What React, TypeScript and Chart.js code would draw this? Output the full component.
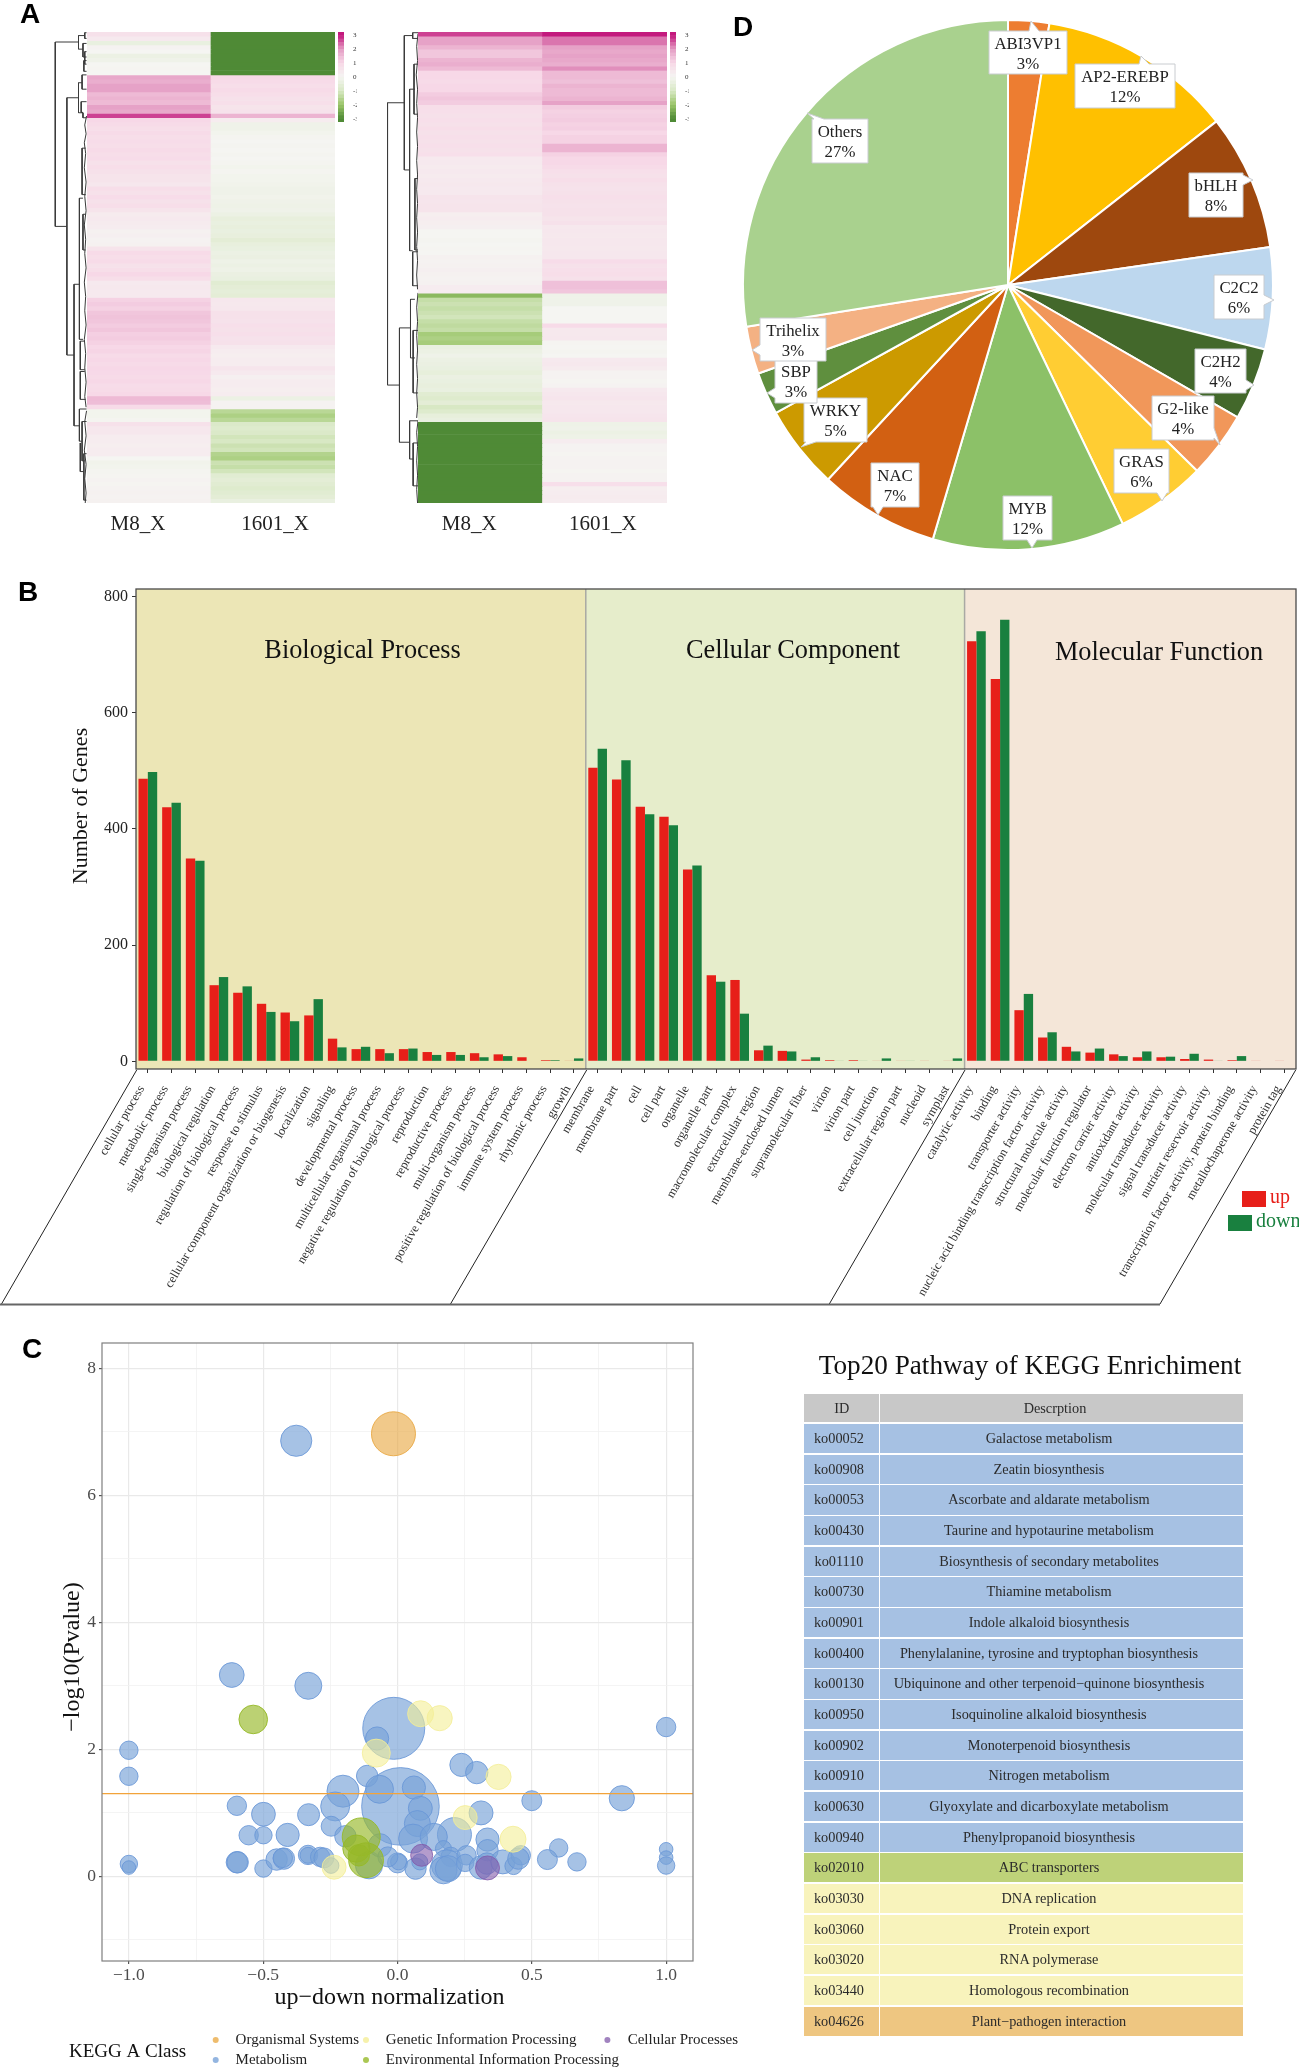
import React, { useEffect, useRef } from "react";
import { Chart, registerables } from "chart.js";

Chart.register(...registerables);

const SERIF = "'Liberation Serif', 'Times New Roman', serif";
const SANS = "'Liberation Sans', Arial, sans-serif";

// ---------- Panel A data: z-scores, one entry per heat-map row ----------
const heatColumns = ["M8_X", "1601_X"];
const leftM8 = [
  0.7, 0.4, -0.4, 0.1, 0, -0.3, -0.2, 0, 0.05, 0,
  1.8, 1.7, 1.9, 1.9, 1.5, 1.6, 1.5, 1.9, 1.8, 2.7,
  1.0, 0.9, 0.8, 0.9, 0.8, 0.85, 0.8, 0.9, 0.8, 0.85,
  0.7, 0.8, 0.7, 0.6, 0.6, 0.5, 0.8, 0.7, 0.85, 0.7,
  0.8, 0.6, 0.35, 0.4, 0.35, 0.3, 0.15, 0.2, 0.1, 0.15,
  0.6, 0.9, 0.8, 0.9, 0.7, 0.8, 1.0, 0.8, 0.4, 0.45,
  0.4, 0.4, 1.1, 1.2, 1.1, 1.3, 1.35, 1.3, 1.2, 1.3,
  1.15, 1.2, 1.1, 1.0, 1.05, 0.9, 1.0, 0.9, 1.0, 0.95,
  0.9, 1.0, 0.85, 0.9, 1.0, 1.5, 1.45, 0.9, -0.1, -0.1,
  -0.05, 0.7, 0.5, 0.5, 0.3, 0.3, 0.25, 0.3, 0.3, 0,
  -0.15, -0.1, -0.05, 0.05, 0.1, 0.05, 0.1, 0.15, 0.1, 0.15,
];
const left1601 = [
  -3, -3, -3, -3, -3, -3, -3, -3, -3, -3,
  1.0, 0.9, 0.8, 0.9, 0.8, 0.7, 0.75, 0.6, 0.65, 1.6,
  0.3, -0.2, -0.2, -0.1, -0.05, 0, -0.05, 0, -0.05, 0,
  -0.05, -0.1, -0.05, -0.1, -0.1, -0.15, -0.2, -0.2, -0.15, -0.2,
  -0.25, -0.2, -0.3, -0.45, -0.4, -0.45, -0.4, -0.45, -0.6, -0.45,
  -0.4, -0.3, -0.35, -0.25, -0.3, -0.25, -0.35, -0.4, -0.7, -0.6,
  -0.55, -0.6, 0.5, 0.45, 0.5, 0.7, 0.7, 0.65, 0.75, 0.7,
  0.75, 0.65, 0.7, 0.4, 0.3, 0.25, 0.3, 0.3, 0.55, 0.4,
  0.2, 0.3, 0.3, 0.25, 0.3, -0.3, 0.1, 0.1, -1.5, -1.7,
  -1.5, -0.9, -0.8, -0.9, -1.1, -1.0, -1.2, -1.1, -1.6, -1.7,
  -1.2, -1.3, -1.1, -0.7, -0.6, -0.7, -0.8, -0.7, -0.6, -0.4,
];
const rightM8 = [
  2.7, 1.9, 1.9, 1.6, 1.3, 1.3, 1.6, 1.7, 1.5, 1.0,
  1.0, 0.9, 1.0, 1.0, 1.2, 1.3, 1.2, 0.8, 0.75, 0.7,
  0.75, 0.7, 0.8, 0.7, 0.75, 0.7, 0.75, 0.7, 0.75, 0.4,
  0.4, 0.35, 0.4, 0.35, 0.4, 0.45, 0.4, 0.4, 0.6, 0.55,
  0.6, 0.6, 0.25, 0.3, 0.25, 0.2, 0, 0, -0.05, 0,
  0.05, 0, 0.15, 0.1, 0.15, 0.2, 0.15, 0.1, 0.15, 0.3,
  0.3, -2.2, -1.3, -1.2, -1.3, -1.2, -1.1, -1.3, -1.4, -1.3,
  -1.8, -1.7, -1.8, -0.4, -0.3, -0.2, -0.3, -0.35, -0.4, -0.5,
  -0.35, -0.4, -0.45, -0.4, -0.7, -0.8, -0.6, -1.0, -0.8, -0.5,
  -0.4, -3, -3, -3, -3, -3, -3, -3, -3, -3,
  -3, -3, -3, -3, -3, -3, -3, -3, -3, -3,
];
const right1601 = [
  3.0, 2.3, 2.3, 1.9, 1.8, 1.9, 1.8, 1.7, 2.1, 1.5,
  1.5, 1.4, 1.6, 1.5, 1.5, 1.6, 1.9, 1.2, 1.1, 1.15,
  1.2, 1.1, 1.15, 1.0, 1.1, 1.1, 1.6, 1.6, 1.1, 1.0,
  1.0, 0.9, 0.75, 0.7, 0.8, 0.7, 0.65, 0.7, 0.75, 0.7,
  0.65, 0.7, 0.7, 0.6, 0.7, 0.45, 0.5, 0.45, 0.5, 0.5,
  0.45, 0.5, 0.5, 0.85, 0.7, 0.75, 0.8, 0.7, 1.4, 1.4,
  1.3, -0.2, -0.2, -0.2, 0, 0, 0, 0, 0.9, 0.45,
  0.45, 0.5, 0.05, 0, -0.05, 0, 0.4, 0.45, 0.35, 0.1,
  0.1, 0.05, 0.1, 0.4, 0.5, 0.55, 0.45, 0.5, 0.5, 0.55,
  0.6, -0.25, -0.2, -0.3, -0.25, 0.3, 0.1, 0.1, 0.05, 0.1,
  0.1, 0.1, 0.05, 0.1, 0.1, 0.75, 0.25, 0.3, 0.35, 0.3,
];
const colorbarStops = [
  -3.2, -3, -2.75, -2.5, -2.25, -2, -1.75, -1.5, -1.25, -1, -0.75, -0.5, -0.25,
  0, 0.25, 0.5, 0.75, 1, 1.25, 1.5, 1.75, 2, 2.25, 2.5, 2.75, 3, 3.25,
];
const colorbarTicks = [-3, -2, -1, 0, 1, 2, 3];

// dendrogram branches, as [height, row position, height, row position, ...]
const leftTreeBranches = [
  [176, 118, 124, 118, 124, 634, 150, 634],
  [176, 274, 150, 274, 150, 994, 166, 994],
  [178, 796, 166, 796, 166, 1192, 178, 1192],
  [190, 100, 176, 100, 176, 138, 186, 138],
  [194, 122, 186, 122, 186, 160, 194, 160],
  [194, 92, 190, 92, 190, 108, 194, 108],
  [194, 145, 190, 145, 190, 180, 194, 180],
  [194, 170, 188, 170, 188, 200, 194, 200],
  [194, 210, 184, 210, 184, 250, 194, 250],
  [184, 232, 176, 232, 176, 316, 186, 316, 186, 330, 194, 330],
  [194, 285, 182, 285, 182, 315, 186, 315],
  [178, 555, 178, 950, 186, 950],
  [178, 555, 186, 555],
  [184, 415, 184, 545, 192, 545],
  [184, 415, 192, 415],
  [186, 600, 186, 700, 192, 700],
  [186, 600, 192, 600],
  [180, 955, 180, 1035, 190, 1035],
  [180, 955, 190, 955],
  [180, 1040, 180, 1118, 192, 1118],
  [180, 1040, 190, 1040],
  [194, 325, 190, 350, 193, 375, 189, 400, 192, 430, 189, 470, 193, 510, 190, 550, 193, 590, 189, 630, 192, 670, 190, 710, 193, 750, 189, 790, 192, 830, 190, 870, 193, 910, 189, 950, 192, 990, 190, 1030, 193, 1070, 190, 1110, 193, 1140],
  [194, 1145, 178, 1145, 178, 1235, 184, 1235],
  [184, 1180, 184, 1290, 190, 1290],
  [184, 1180, 194, 1180],
  [180, 1240, 180, 1320, 188, 1320],
  [188, 1270, 188, 1400, 194, 1400],
  [188, 1270, 194, 1270],
  [194, 1150, 190, 1180, 193, 1220, 189, 1260, 193, 1300, 190, 1340, 193, 1380, 191, 1408],
];
const rightTreeBranches = [
  [906, 288, 868, 288, 868, 1078, 895, 1078],
  [925, 100, 906, 100, 906, 476, 918, 476],
  [930, 250, 918, 250, 918, 702, 925, 702],
  [895, 918, 895, 1238, 918, 1238],
  [895, 918, 920, 918],
  [920, 838, 920, 1002, 930, 1002],
  [920, 838, 930, 838],
  [918, 1178, 918, 1285, 926, 1285],
  [918, 1178, 937, 1178],
  [925, 92, 925, 108, 937, 108],
  [925, 92, 937, 92],
  [928, 180, 928, 320, 937, 320],
  [928, 180, 937, 180],
  [930, 500, 930, 700, 937, 700],
  [930, 500, 937, 500],
  [925, 705, 925, 800, 937, 800],
  [925, 705, 937, 705],
  [926, 925, 926, 1100, 937, 1100],
  [926, 925, 937, 925],
  [926, 1240, 926, 1360, 937, 1360],
  [926, 1240, 937, 1240],
  [937, 95, 934, 130, 936, 170, 933, 210, 936, 250, 934, 290, 936, 330, 934, 370, 936, 410, 934, 450, 936, 490, 934, 530, 936, 570, 934, 610, 936, 650, 934, 690, 936, 730, 934, 770, 936, 810],
  [937, 820, 934, 860, 936, 900, 934, 940, 936, 980, 934, 1020, 936, 1060, 934, 1100, 936, 1140, 934, 1170],
  [937, 1178, 934, 1210, 936, 1250, 934, 1290, 936, 1330, 934, 1370, 936, 1408],
];

// ---------- Panel B data ----------
const goTerms = [
  "cellular process", "metabolic process", "single-organism process", "biological regulation",
  "regulation of biological process", "response to stimulus", "cellular component organization or biogenesis",
  "localization", "signaling", "developmental process", "multicellular organismal process",
  "negative regulation of biological process", "reproduction", "reproductive process", "multi-organism process",
  "positive regulation of biological process", "immune system process", "rhythmic process", "growth",
  "membrane", "membrane part", "cell", "cell part", "organelle", "organelle part", "macromolecular complex",
  "extracellular region", "membrane-enclosed lumen", "supramolecular fiber", "virion", "virion part",
  "cell junction", "extracellular region part", "nucleoid", "symplast",
  "catalytic activity", "binding", "transporter activity", "nucleic acid binding transcription factor activity",
  "structural molecule activity", "molecular function regulator", "electron carrier activity", "antioxidant activity",
  "molecular transducer activity", "signal transducer activity", "nutrient reservoir activity",
  "transcription factor activity, protein binding", "metallochaperone activity", "protein tag",
];
const goUp = [
  486, 437, 349, 131, 118, 99, 84, 79, 39, 21, 21, 21, 16, 16, 14, 12, 7, 2, 1,
  505, 485, 438, 421, 330, 148, 140, 19, 18, 3, 2, 2, 1, 1, 1, 1,
  723, 658, 88, 41, 25, 15, 12, 7, 7, 4, 3, 2, 1, 1,
];
const goDown = [
  498, 445, 345, 145, 129, 85, 69, 107, 24, 25, 14, 22, 11, 11, 7, 9, 0, 2, 5,
  538, 518, 425, 406, 337, 137, 82, 27, 17, 7, 1, 1, 5, 1, 0, 5,
  740, 760, 116, 50, 17, 22, 9, 17, 8, 13, 1, 9, 0, 0,
];
const goTicks = [0, 200, 400, 600, 800];
const facetNames = ["Biological Process", "Cellular Component", "Molecular Function"];
const legendB = ["up", "down"];

// ---------- Panel C data: x = up-down normalization, y = -log10(P), r = bubble size ----------
const threshold = [1.3, 1.3];
const metabolism = [
  { x: -0.377, y: 6.86, r: 15.6 }, { x: -0.617, y: 3.17, r: 12.4 }, { x: -0.332, y: 3.0, r: 13.5 },
  { x: -0.014, y: 2.33, r: 31 }, { x: -0.076, y: 2.17, r: 11.6 }, { x: -1, y: 1.985, r: 9.2 },
  { x: -1, y: 1.575, r: 9.2 }, { x: 1, y: 2.35, r: 9.7 }, { x: 0.238, y: 1.754, r: 11.6 },
  { x: 0.295, y: 1.633, r: 11.2 }, { x: 0.011, y: 1.1, r: 38.8 }, { x: -0.113, y: 1.58, r: 10.7 },
  { x: -0.067, y: 1.37, r: 14 }, { x: 0.061, y: 1.397, r: 11.6 }, { x: -0.203, y: 1.34, r: 16 },
  { x: -0.232, y: 1.1, r: 14.5 }, { x: 0.085, y: 1.07, r: 12 }, { x: -0.598, y: 1.11, r: 9.7 },
  { x: -0.499, y: 0.977, r: 11.9 }, { x: -0.331, y: 0.97, r: 11 }, { x: -0.247, y: 0.788, r: 10 },
  { x: -0.554, y: 0.646, r: 9.7 }, { x: -0.499, y: 0.646, r: 8.7 }, { x: -0.409, y: 0.651, r: 11.6 },
  { x: -0.194, y: 0.63, r: 10.7 }, { x: -0.106, y: 0.173, r: 13.6 }, { x: -0.065, y: 0.488, r: 11.6 },
  { x: 0.074, y: 0.83, r: 13 }, { x: 0.058, y: 0.593, r: 14.5 }, { x: 0.311, y: 0.998, r: 12 },
  { x: 0.5, y: 1.19, r: 10 }, { x: 0.835, y: 1.229, r: 12.6 }, { x: 0.212, y: 0.656, r: 17 },
  { x: 0.135, y: 0.62, r: 13.6 }, { x: 0.335, y: 0.578, r: 11.6 }, { x: 0.335, y: 0.41, r: 10.7 },
  { x: 0.6, y: 0.446, r: 9.2 }, { x: 0.558, y: 0.263, r: 10 }, { x: 0.668, y: 0.226, r: 9.2 },
  { x: 1, y: 0.425, r: 6.8 }, { x: 1, y: 0.294, r: 6.8 }, { x: 1, y: 0.168, r: 8.7 },
  { x: -1, y: 0.194, r: 8.7 }, { x: -1, y: 0.137, r: 6.8 }, { x: -0.598, y: 0.22, r: 10.7 },
  { x: -0.595, y: 0.22, r: 10.7 }, { x: -0.499, y: 0.121, r: 8.7 }, { x: -0.45, y: 0.263, r: 10.7 },
  { x: -0.423, y: 0.278, r: 10.7 }, { x: -0.427, y: 0.289, r: 9.7 }, { x: -0.333, y: 0.336, r: 9.7 },
  { x: -0.333, y: 0.33, r: 8 }, { x: -0.288, y: 0.305, r: 9.7 }, { x: -0.274, y: 0.289, r: 10 },
  { x: -0.247, y: 0.168, r: 7.8 }, { x: 0, y: 0.21, r: 10 }, { x: 0.004, y: 0.226, r: 8 },
  { x: -0.036, y: 0.305, r: 10 }, { x: 0.067, y: 0.12, r: 10.7 }, { x: 0.083, y: 0.226, r: 8 },
  { x: 0.171, y: 0.436, r: 8 }, { x: 0.198, y: 0.305, r: 9.7 }, { x: 0.184, y: 0.173, r: 15.5 },
  { x: 0.171, y: 0.095, r: 13.6 }, { x: 0.189, y: 0.12, r: 13 }, { x: 0.257, y: 0.33, r: 9.7 },
  { x: 0.252, y: 0.21, r: 8.7 }, { x: 0.31, y: 0.137, r: 11.6 }, { x: 0.333, y: 0.2, r: 10.7 },
  { x: 0.392, y: 0.226, r: 12 }, { x: 0.432, y: 0.163, r: 8.7 }, { x: 0.459, y: 0.33, r: 9.7 },
  { x: 0.45, y: 0.278, r: 10.7 },
];
const organismalSystems = [{ x: -0.015, y: 6.97, r: 22 }];
const geneticInfo = [
  { x: 0.086, y: 2.56, r: 13 }, { x: 0.157, y: 2.49, r: 12.6 }, { x: -0.079, y: 1.94, r: 14 },
  { x: 0.376, y: 1.565, r: 12.6 }, { x: 0.252, y: 0.924, r: 12 }, { x: 0.43, y: 0.583, r: 13 },
  { x: -0.236, y: 0.142, r: 12 },
];
const environmentalInfo = [
  { x: -0.537, y: 2.47, r: 14.3 }, { x: -0.135, y: 0.62, r: 19 }, { x: -0.153, y: 0.436, r: 13.6 },
  { x: -0.117, y: 0.252, r: 17.4 }, { x: -0.144, y: 0.33, r: 10.7 },
];
const cellularProcesses = [{ x: 0.09, y: 0.33, r: 11 }, { x: 0.335, y: 0.131, r: 12 }];
const keggClasses = ["Organismal Systems", "Metabolism", "Genetic Information Processing", "Environmental Information Processing", "Cellular Processes"];

// ---------- Panel C table ----------
const pathwayIds = [
  "ko00052", "ko00908", "ko00053", "ko00430", "ko01110", "ko00730", "ko00901", "ko00400", "ko00130", "ko00950",
  "ko00902", "ko00910", "ko00630", "ko00940", "ko02010", "ko03030", "ko03060", "ko03020", "ko03440", "ko04626",
];
const pathwayNames = [
  "Galactose metabolism", "Zeatin biosynthesis", "Ascorbate and aldarate metabolism", "Taurine and hypotaurine metabolism",
  "Biosynthesis of secondary metabolites", "Thiamine metabolism", "Indole alkaloid biosynthesis",
  "Phenylalanine, tyrosine and tryptophan biosynthesis", "Ubiquinone and other terpenoid\u2212quinone biosynthesis",
  "Isoquinoline alkaloid biosynthesis", "Monoterpenoid biosynthesis", "Nitrogen metabolism",
  "Glyoxylate and dicarboxylate metabolism", "Phenylpropanoid biosynthesis", "ABC transporters", "DNA replication",
  "Protein export", "RNA polymerase", "Homologous recombination", "Plant\u2212pathogen interaction",
];
const pathwayClass = ["M", "M", "M", "M", "M", "M", "M", "M", "M", "M", "M", "M", "M", "M", "E", "G", "G", "G", "G", "O"];

// ---------- Panel D data ----------
const tfFamilies = ["ABI3VP1", "AP2-EREBP", "bHLH", "C2C2", "C2H2", "G2-like", "GRAS", "MYB", "NAC", "WRKY", "SBP", "Trihelix", "Others"];
const tfShares = [2.5, 11.9, 8.3, 6.2, 4.4, 4.05, 5.5, 11.7, 7.3, 5.1, 2.6, 2.9, 27.5];
const tfPrinted = ["3%", "12%", "8%", "6%", "4%", "4%", "6%", "12%", "7%", "5%", "3%", "3%", "27%"];

// ---------- Styles and placement (page pixels) ----------
const tfColors = ["#ED7D31", "#FFC000", "#9E480E", "#BDD7EE", "#43682B", "#F1975A", "#FFCD33", "#8CC168", "#D26012", "#CC9A00", "#5F8F3E", "#F4B183", "#A9D18E"];
// box x0,y0,x1,y1, pointer tip x,y
const tfLabelBoxes = [
  [989, 31, 1067, 74, 1031, 21], [1075, 64, 1175, 108, 1141, 56], [1189, 173, 1243, 217, 1253, 180],
  [1214, 275, 1264, 319, 1274, 300], [1195, 349, 1246, 393, 1254, 385], [1152, 396, 1214, 440, 1220, 445],
  [1114, 449, 1169, 493, 1162, 501], [1003, 496, 1052, 540, 1032, 548], [871, 463, 919, 507, 878, 515],
  [804, 398, 867, 442, 801, 447], [775, 359, 817, 403, 767, 393], [760, 318, 826, 361, 752, 350],
  [812, 119, 868, 163, 807, 113],
];
const Z_STOPS = [
  [-3, [79, 138, 54]], [-2, [154, 197, 104]], [-1, [216, 232, 196]], [0, [245, 245, 242]],
  [1, [247, 216, 231]], [2, [228, 156, 195]], [3, [195, 25, 125]],
];
function zColor(z: number) {
  const v = Math.max(-3, Math.min(3, z));
  for (let i = 0; i < Z_STOPS.length - 1; i++) {
    const a: any = Z_STOPS[i];
    const b: any = Z_STOPS[i + 1];
    if (v <= b[0]) {
      const t = (v - a[0]) / (b[0] - a[0]);
      const c = a[1].map((n: number, k: number) => Math.round(n + (b[1][k] - n) * t));
      return `rgb(${c[0]},${c[1]},${c[2]})`;
    }
  }
  return "rgb(195,25,125)";
}

function text(ctx: any, s: string, x: number, y: number, font: string, color = "#111", align = "center", rot = 0) {
  ctx.save();
  ctx.translate(x, y);
  if (rot) ctx.rotate(rot);
  ctx.font = font;
  ctx.fillStyle = color;
  ctx.textAlign = align;
  ctx.textBaseline = "middle";
  ctx.fillText(s, 0, 0);
  ctx.restore();
}

const baseOptions = {
  responsive: false,
  maintainAspectRatio: false,
  animation: false,
  events: [],
};
const noLegend = { legend: { display: false }, tooltip: { enabled: false }, title: { display: false } };

function ChartBox({ left, top, width, height, config }: any) {
  const ref = useRef<HTMLCanvasElement>(null);
  useEffect(() => {
    const chart = new Chart(ref.current as any, config());
    return () => chart.destroy();
  }, []);
  return <canvas ref={ref} width={width} height={height} style={{ position: "absolute", left, top, width, height, display: "block" }} />;
}

// ---- Panel A ----
function heatConfig(col1: number[], col2: number[], offsets: number[]) {
  return () => ({
    type: "bar",
    data: {
      labels: heatColumns,
      datasets: col1.map((z, i) => ({
        data: [1, 1],
        backgroundColor: [zColor(z), zColor(col2[i])],
        borderWidth: 0,
        categoryPercentage: 1,
        barPercentage: 1,
      })),
    },
    options: {
      ...baseOptions,
      layout: { autoPadding: false, padding: { left: 0, right: 0, top: 0, bottom: 39 } },
      plugins: noLegend,
      scales: {
        x: { stacked: true, display: false },
        y: { stacked: true, display: false, reverse: true, min: 0, max: col1.length },
      },
    },
    plugins: [
      {
        id: "heatLabels",
        afterDraw(chart: any) {
          heatColumns.forEach((c, i) => {
            text(chart.ctx, c, chart.scales.x.getPixelForValue(i) + offsets[i], 524 - 32, `21px ${SERIF}`, "#222");
          });
        },
      },
    ],
  });
}

function treeConfig(branches: number[][], xMin: number, xMax: number) {
  return () => ({
    type: "scatter",
    data: {
      datasets: branches.map((b) => {
        const pts = [];
        for (let i = 0; i < b.length; i += 2) pts.push({ x: b[i], y: b[i + 1] });
        return { data: pts, showLine: true, pointRadius: 0, borderColor: "#3a3a3a", borderWidth: 1, tension: 0, clip: false };
      }),
    },
    options: {
      ...baseOptions,
      layout: { autoPadding: false },
      plugins: noLegend,
      scales: {
        x: { type: "linear", display: false, min: xMin, max: xMax },
        y: { type: "linear", display: false, min: 90, max: 1408, reverse: true },
      },
    },
  });
}

function colorbarConfig() {
  return {
    type: "bar",
    data: {
      labels: ["z"],
      datasets: colorbarStops.slice(0, -1).map((s, i) => ({
        data: [[s, colorbarStops[i + 1]]],
        backgroundColor: zColor((s + colorbarStops[i + 1]) / 2),
        grouped: false,
        borderWidth: 0,
        categoryPercentage: 1,
        barPercentage: 1,
      })),
    },
    options: {
      ...baseOptions,
      layout: { autoPadding: false },
      plugins: noLegend,
      scales: {
        x: { display: false },
        y: {
          position: "right",
          min: -3.2,
          max: 3.25,
          afterFit(s: any) { s.width = 13; s.paddingTop = 0; s.paddingBottom = 0; },
          afterBuildTicks(s: any) { s.ticks = colorbarTicks.map((v) => ({ value: v })); },
          grid: { display: false },
          border: { display: false },
          ticks: { autoSkip: false, padding: 1, font: { family: SERIF, size: 7 }, color: "#333" },
        },
      },
    },
  };
}

// ---- Panel B ----
function goConfig() {
  const T = 580;
  return {
    type: "bar",
    data: {
      labels: goTerms,
      datasets: [
        { label: legendB[0], data: goUp, backgroundColor: "#E71F19", borderWidth: 0, categoryPercentage: 0.79, barPercentage: 1 },
        { label: legendB[1], data: goDown, backgroundColor: "#19803F", borderWidth: 0, categoryPercentage: 0.79, barPercentage: 1 },
      ],
    },
    options: {
      ...baseOptions,
      layout: { autoPadding: false, padding: { left: 0, right: 3, top: 9, bottom: 0 } },
      plugins: noLegend,
      scales: {
        x: {
          afterFit(s: any) { s.height = 241; s.paddingLeft = 0; s.paddingRight = 0; },
          grid: { display: true, drawOnChartArea: false, offset: false, tickLength: 4, color: "#333" },
          border: { display: false },
          ticks: {
            autoSkip: false, minRotation: 60, maxRotation: 60, padding: 10, labelOffset: -6,
            font: { family: SERIF, size: 12.5 }, color: "#333",
          },
        },
        y: {
          min: -13.2,
          max: 812.7,
          afterFit(s: any) { s.width = 136; s.paddingTop = 0; s.paddingBottom = 0; },
          afterBuildTicks(s: any) { s.ticks = goTicks.map((v) => ({ value: v })); },
          grid: { display: true, drawOnChartArea: false, tickLength: 4, color: "#333" },
          border: { display: false },
          ticks: { padding: 4, font: { family: SERIF, size: 16 }, color: "#222" },
        },
      },
    },
    plugins: [
      {
        id: "facets",
        beforeDatasetsDraw(chart: any) {
          const { ctx, chartArea: a, scales } = chart;
          const b1 = scales.x.getPixelForValue(18.5);
          const b2 = scales.x.getPixelForValue(34.5);
          ctx.save();
          ctx.fillStyle = "#ECE6B6";
          ctx.fillRect(a.left, a.top, b1 - a.left, a.height);
          ctx.fillStyle = "#E6EDCB";
          ctx.fillRect(b1, a.top, b2 - b1, a.height);
          ctx.fillStyle = "#F4E6D8";
          ctx.fillRect(b2, a.top, a.right - b2, a.height);
          ctx.restore();
        },
        afterDraw(chart: any) {
          const { ctx, chartArea: a, scales } = chart;
          const b1 = scales.x.getPixelForValue(18.5);
          const b2 = scales.x.getPixelForValue(34.5);
          ctx.save();
          ctx.strokeStyle = "#a9a9a4";
          ctx.lineWidth = 1.5;
          [b1, b2].forEach((b) => {
            ctx.beginPath(); ctx.moveTo(b, a.top); ctx.lineTo(b, a.bottom); ctx.stroke();
          });
          ctx.strokeStyle = "#4a4a4a";
          ctx.lineWidth = 1.3;
          ctx.strokeRect(a.left, a.top, a.width, a.height);
          // slanted guides below the axis
          ctx.strokeStyle = "#222";
          ctx.lineWidth = 1;
          [[136.7, 1.5], [586.7, 450.5], [965, 829.3], [1295.7, 1160]].forEach(([x1, x2]) => {
            ctx.beginPath(); ctx.moveTo(x1, 1070 - T); ctx.lineTo(x2, 1304 - T); ctx.stroke();
          });
          ctx.strokeStyle = "#666";
          ctx.lineWidth = 2;
          ctx.beginPath(); ctx.moveTo(0, 1304.5 - T); ctx.lineTo(1160, 1304.5 - T); ctx.stroke();
          ctx.restore();
          text(ctx, "Number of Genes", 81, 806 - T, `22px ${SERIF}`, "#111", "center", -Math.PI / 2);
          text(ctx, facetNames[0], 362.6, 651 - T, `26.3px ${SERIF}`);
          text(ctx, facetNames[1], 793, 651 - T, `26.3px ${SERIF}`);
          text(ctx, facetNames[2], 1159, 653 - T, `26.3px ${SERIF}`);
          ctx.fillStyle = "#E71F19";
          ctx.fillRect(1242, 1191 - T, 24, 16);
          ctx.fillStyle = "#19803F";
          ctx.fillRect(1228, 1215 - T, 24, 16);
          text(ctx, legendB[0], 1270, 1198 - T, `20px ${SERIF}`, "#E71F19", "left");
          text(ctx, legendB[1], 1256, 1222 - T, `20px ${SERIF}`, "#19803F", "left");
        },
      },
    ],
  };
}

// ---- Panel C ----
function bubbleConfig() {
  const T = 1330;
  const cols: any = {
    M: ["rgba(120,163,216,0.66)", "rgba(105,150,215,0.85)"],
    O: ["rgba(232,165,60,0.6)", "rgba(232,165,60,0.85)"],
    G: ["rgba(244,238,150,0.6)", "rgba(244,238,150,0.8)"],
    E: ["rgba(150,185,40,0.65)", "rgba(150,185,40,0.9)"],
    C: ["rgba(130,90,170,0.6)", "rgba(130,90,170,0.8)"],
  };
  const bub = (data: any, k: string, label: string) => ({
    type: "bubble", label, data, backgroundColor: cols[k][0], borderColor: cols[k][1], borderWidth: 1,
  });
  return {
    type: "bubble",
    data: {
      datasets: [
        {
          type: "line", label: "threshold",
          data: threshold.map((y, i) => ({ x: i === 0 ? -1.1 : 1.1, y })),
          borderColor: "#F2A33A", borderWidth: 1.3, pointRadius: 0,
        },
        bub(cellularProcesses, "C", keggClasses[4]),
        bub(organismalSystems, "O", keggClasses[0]),
        bub(environmentalInfo, "E", keggClasses[3]),
        bub(geneticInfo, "G", keggClasses[2]),
        bub(metabolism, "M", keggClasses[1]),
      ],
    },
    options: {
      ...baseOptions,
      layout: { autoPadding: false, padding: { left: 0, right: 67, top: 13, bottom: 0 } },
      plugins: noLegend,
      scales: {
        x: {
          type: "linear",
          min: -1.1,
          max: 1.1,
          afterFit(s: any) { s.height = 107; s.paddingLeft = 0; s.paddingRight = 0; },
          border: { display: false },
          grid: {
            color: (c: any) => (Math.abs((c.tick.value * 2) % 1) < 1e-6 ? "#e9e9e9" : "#f1f1f1"),
            lineWidth: (c: any) => (Math.abs((c.tick.value * 2) % 1) < 1e-6 ? 1.2 : 0.8),
            tickColor: (c: any) => (Math.abs((c.tick.value * 2) % 1) < 1e-6 ? "#555" : "rgba(0,0,0,0)"),
            tickLength: 3,
          },
          ticks: {
            stepSize: 0.25, autoSkip: false, includeBounds: false, maxRotation: 0, padding: 1,
            font: { family: SERIF, size: 17.5 }, color: "#4d4d4d",
            callback: (v: number) => (Math.abs((v * 2) % 1) < 1e-6 ? (v < 0 ? "\u2212" : "") + Math.abs(v).toFixed(1) : ""),
          },
        },
        y: {
          type: "linear",
          min: -1.335,
          max: 8.4,
          afterFit(s: any) { s.width = 102; s.paddingTop = 0; s.paddingBottom = 0; },
          border: { display: false },
          grid: {
            color: (c: any) => (c.tick.value % 2 === 0 ? "#e9e9e9" : "#f1f1f1"),
            lineWidth: (c: any) => (c.tick.value % 2 === 0 ? 1.2 : 0.8),
            tickColor: (c: any) => (c.tick.value % 2 === 0 ? "#555" : "rgba(0,0,0,0)"),
            tickLength: 3,
          },
          ticks: {
            stepSize: 1, autoSkip: false, includeBounds: false, padding: 3,
            font: { family: SERIF, size: 17.5 }, color: "#4d4d4d",
            callback: (v: number) => (v % 2 === 0 ? String(v) : ""),
          },
        },
      },
    },
    plugins: [
      {
        id: "bubbleFrame",
        afterDraw(chart: any) {
          const { ctx, chartArea: a } = chart;
          ctx.save();
          ctx.strokeStyle = "#7f7f7f";
          ctx.lineWidth = 1.2;
          ctx.strokeRect(a.left, a.top, a.width, a.height);
          ctx.restore();
          text(ctx, "up\u2212down normalization", 389.5, 1998 - T, `24px ${SERIF}`);
          text(ctx, "\u2212log10(Pvalue)", 73, 1657 - T, `24px ${SERIF}`, "#111", "center", -Math.PI / 2);
          text(ctx, "KEGG A Class", 69, 2052 - T, `19px ${SERIF}`, "#111", "left");
          const items: any[] = [
            [215.7, 2040, 235.6, keggClasses[0], "rgba(232,165,60,0.75)"],
            [215.7, 2060, 235.6, keggClasses[1], "rgba(120,163,216,0.8)"],
            [366, 2040, 385.8, keggClasses[2], "rgba(244,238,150,0.8)"],
            [366, 2060, 385.8, keggClasses[3], "rgba(150,185,40,0.8)"],
            [607.4, 2040, 627.7, keggClasses[4], "rgba(130,90,170,0.75)"],
          ];
          items.forEach(([dx, y, tx, label, col]) => {
            ctx.beginPath();
            ctx.fillStyle = col;
            ctx.arc(dx, y - T, 3, 0, Math.PI * 2);
            ctx.fill();
            text(ctx, label, tx, y - T, `15px ${SERIF}`, "#222", "left");
          });
        },
      },
    ],
  };
}

// ---- Panel D ----
function calloutPath(ctx: any, x0: number, y0: number, x1: number, y1: number, tx: number, ty: number) {
  const dl = x0 - tx, dr = tx - x1, dt = y0 - ty, db = ty - y1;
  const m = Math.max(dl, dr, dt, db);
  const hw = 5;
  ctx.beginPath();
  ctx.moveTo(x0, y0);
  if (m === dt) {
    const b = Math.min(x1 - 7, Math.max(x0 + 7, tx + 3));
    ctx.lineTo(b - hw, y0); ctx.lineTo(tx, ty); ctx.lineTo(b + hw, y0);
  }
  ctx.lineTo(x1, y0);
  if (m === dr) {
    const b = Math.min(y1 - 7, Math.max(y0 + 7, ty));
    ctx.lineTo(x1, b - hw); ctx.lineTo(tx, ty); ctx.lineTo(x1, b + hw);
  }
  ctx.lineTo(x1, y1);
  if (m === db) {
    const b = Math.min(x1 - 7, Math.max(x0 + 7, tx));
    ctx.lineTo(b + hw, y1); ctx.lineTo(tx, ty); ctx.lineTo(b - hw, y1);
  }
  ctx.lineTo(x0, y1);
  if (m === dl) {
    const b = Math.min(y1 - 7, Math.max(y0 + 7, ty));
    ctx.lineTo(x0, b + hw); ctx.lineTo(tx, ty); ctx.lineTo(x0, b - hw);
  }
  ctx.closePath();
}

function pieConfig() {
  const L = 728, T = 5;
  return {
    type: "pie",
    data: {
      labels: tfFamilies,
      datasets: [{ data: tfShares, backgroundColor: tfColors, borderColor: "#fff", borderWidth: 2 }],
    },
    options: {
      ...baseOptions,
      layout: { autoPadding: false, padding: 14 },
      plugins: noLegend,
    },
    plugins: [
      {
        id: "tfLabels",
        afterDraw(chart: any) {
          const { ctx } = chart;
          tfFamilies.forEach((name, i) => {
            const [x0, y0, x1, y1, tx, ty] = tfLabelBoxes[i];
            ctx.save();
            ctx.translate(-L, -T);
            calloutPath(ctx, x0, y0, x1, y1, tx, ty);
            ctx.fillStyle = "#fff";
            ctx.fill();
            ctx.strokeStyle = "#c9ccd0";
            ctx.lineWidth = 1;
            ctx.stroke();
            const cx = (x0 + x1) / 2;
            const my = (y0 + y1) / 2;
            text(ctx, name, cx, my - 8, `16.8px ${SERIF}`, "#222");
            text(ctx, tfPrinted[i], cx, my + 12, `16.8px ${SERIF}`, "#222");
            ctx.restore();
          });
        },
      },
    ],
  };
}

// ---- Table ----
const classFill: any = { M: "#A6C1E3", E: "#BED279", G: "#F8F3BC", O: "#EEC681" };
function Cell({ left, top, width, height, bg, center, children }: any) {
  return (
    <div style={{ position: "absolute", left, top, width, height, background: bg }}>
      <div style={{
        position: "absolute", left: center - left - 200, width: 400, top: 0, height,
        textAlign: "center", font: `14.3px/${height}px ${SERIF}`, color: "#2b2b2b", whiteSpace: "nowrap",
      }}>{children}</div>
    </div>
  );
}

function KeggTable() {
  const top = 1393.5, pitch = 30.65;
  return (
    <div style={{ position: "absolute", left: 0, top: 0, overflow: "hidden", width: 1299, height: 2068, pointerEvents: "none" }}>
      <div style={{ position: "absolute", left: 780, width: 500, top: 1348, textAlign: "center", font: `27.2px/34px ${SERIF}`, color: "#111", whiteSpace: "nowrap" }}>
        Top20 Pathway of KEGG Enrichiment
      </div>
      <Cell left={804} top={top} width={74.7} height={28.6} bg="#C8C8C8" center={841.8}>ID</Cell>
      <Cell left={880} top={top} width={363} height={28.6} bg="#C8C8C8" center={1055}>Descrption</Cell>
      {pathwayIds.map((id, i) => (
        <React.Fragment key={id}>
          <Cell left={804} top={top + (i + 1) * pitch} width={74.7} height={29.2} bg={classFill[pathwayClass[i]]} center={839}>{id}</Cell>
          <Cell left={880} top={top + (i + 1) * pitch} width={363} height={29.2} bg={classFill[pathwayClass[i]]} center={1049}>{pathwayNames[i]}</Cell>
        </React.Fragment>
      ))}
    </div>
  );
}

function Letter({ left, top, children }: any) {
  return <div style={{ position: "absolute", left, top, font: `bold 28px/28px ${SANS}`, color: "#000" }}>{children}</div>;
}

export default function App() {
  return (
    <div style={{ position: "absolute", left: 0, top: 0, width: 1299, height: 2068, background: "#fff", overflow: "hidden" }}>
      <ChartBox left={49} top={32} width={38} height={471} config={treeConfig(leftTreeBranches, 110, 195)} />
      <ChartBox left={87} top={32} width={248} height={510} config={heatConfig(leftM8, left1601, [-11, 2])} />
      <ChartBox left={338} top={32} width={19} height={90} config={colorbarConfig} />
      <ChartBox left={384} top={32} width={34} height={471} config={treeConfig(rightTreeBranches, 860, 937)} />
      <ChartBox left={418} top={32} width={249} height={510} config={heatConfig(rightM8, right1601, [-11, -2])} />
      <ChartBox left={670} top={32} width={19} height={90} config={colorbarConfig} />
      <ChartBox left={728} top={5} width={560} height={560} config={pieConfig} />
      <ChartBox left={0} top={580} width={1299} height={730} config={goConfig} />
      <ChartBox left={0} top={1330} width={760} height={738} config={bubbleConfig} />
      <KeggTable />
      <Letter left={20} top={0}>A</Letter>
      <Letter left={733} top={13}>D</Letter>
      <Letter left={18} top={578}>B</Letter>
      <Letter left={22} top={1335}>C</Letter>
    </div>
  );
}
